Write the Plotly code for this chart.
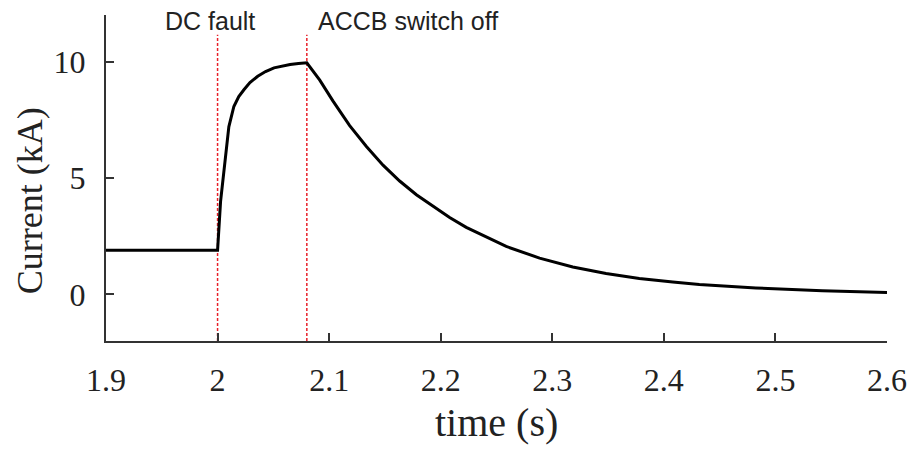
import plotly.graph_objects as go

# Data
time_s = [1.9, 2.0, 2.0027, 2.0056, 2.0101, 2.0146, 2.019, 2.0236, 2.029, 2.036, 2.043,
          2.0506, 2.0575, 2.065, 2.0725, 2.08,
          2.0916, 2.1035, 2.1184, 2.1334, 2.1483, 2.1632, 2.1782, 2.193, 2.208, 2.2229,
          2.2587, 2.2886, 2.3184, 2.3482, 2.378, 2.408, 2.4318, 2.4825, 2.542, 2.6]
current_kA = [1.9, 1.9, 4.0, 5.2, 7.2, 8.07, 8.5, 8.79, 9.1, 9.37, 9.57,
              9.73, 9.81, 9.87, 9.92, 9.95,
              9.2, 8.3, 7.25, 6.35, 5.55, 4.87, 4.28, 3.78, 3.3, 2.88,
              2.06, 1.56, 1.18, 0.9, 0.68, 0.53, 0.43, 0.28, 0.16, 0.08]
event_times = [2.0, 2.08]
event_labels = ["DC fault", "ACCB switch off"]
x_ticks = [1.9, 2.0, 2.1, 2.2, 2.3, 2.4, 2.5, 2.6]
x_ticklabels = ["1.9", "2", "2.1", "2.2", "2.3", "2.4", "2.5", "2.6"]
y_ticks = [0, 5, 10]

fig = go.Figure()
for t in event_times:
    fig.add_trace(go.Scatter(x=[t, t], y=[-2, 11.15], mode="lines",
                             line=dict(color="#e8202a", width=1.5, dash="3px,2px"),
                             showlegend=False, hoverinfo="skip"))
fig.add_trace(go.Scatter(x=time_s, y=current_kA, mode="lines",
                         line=dict(color="black", width=3),
                         showlegend=False))

serif = "Liberation Serif, Times New Roman, serif"
fig.update_layout(
    width=907, height=441,
    margin=dict(l=98, r=28, t=7, b=108),
    plot_bgcolor="white", paper_bgcolor="white",
    font=dict(family=serif, color="#222"),
    xaxis=dict(range=[1.9, 2.6], tickvals=x_ticks, ticktext=x_ticklabels,
               ticks="inside", ticklen=8, tickwidth=1.5, tickcolor="#333",
               showline=True, linecolor="#333", linewidth=2, showgrid=False,
               zeroline=False, tickfont=dict(size=32, family=serif, color="#222"),
               ticklabelstandoff=10, automargin=False),
    yaxis=dict(range=[-2, 12], tickvals=y_ticks,
               ticks="inside", ticklen=8, tickwidth=1.5, tickcolor="#333",
               showline=True, linecolor="#333", linewidth=2, showgrid=False,
               zeroline=False, tickfont=dict(size=32, family=serif, color="#222"),
               ticklabelstandoff=12, automargin=False),
)

annos = []
for t, lab in zip(event_times, event_labels):
    annos.append(dict(x=t, xref="x", y=0.988, yref="paper", text=lab, showarrow=False,
                      xanchor="center", yanchor="middle", yshift=-2,
                      xshift=-8 if t == 2.0 else 101,
                      font=dict(family="Liberation Sans, Arial, sans-serif", size=25, color="#222")))
annos.append(dict(x=0.5, xref="paper", y=-0.25, yref="paper", text="time (s)", showarrow=False,
                  xanchor="center", yanchor="middle", font=dict(family=serif, size=40, color="#222")))
annos.append(dict(x=-0.0973, xref="paper", y=0.429, yref="paper", text="Current (kA)", showarrow=False,
                  xanchor="center", yanchor="middle", textangle=-90,
                  font=dict(family=serif, size=36, color="#222")))
fig.update_layout(annotations=annos)

fig.write_html("out.html")
